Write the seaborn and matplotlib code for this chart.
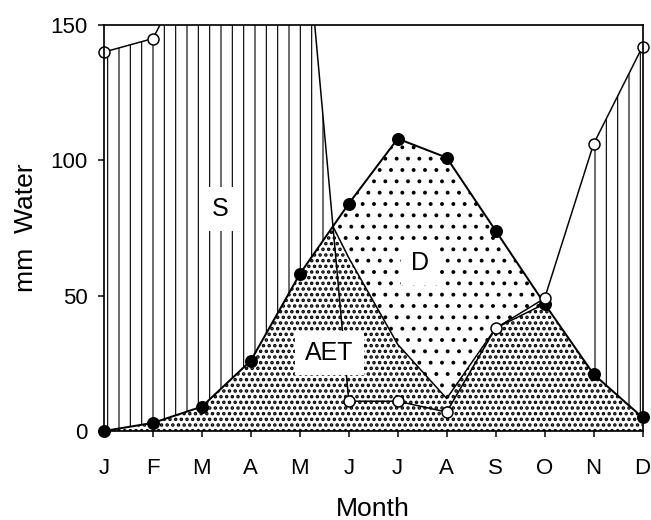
import numpy as np
import matplotlib
matplotlib.use("Agg")
import matplotlib.pyplot as plt
import seaborn as sns

# Monthly water balance (mm)
months = ["J", "F", "M", "A", "M", "J", "J", "A", "S", "O", "N", "D"]
precip = [140, 145, 180, 200, 211, 11, 11, 7, 38, 49, 106, 142]
pet = [0, 3, 9, 26, 58, 84, 108, 101, 74, 47, 21, 5]
aet = [0, 3, 9, 26, 58, 64, 32, 12, 38, 47, 21, 5]
surplus = [True, True, True, True, True, False, False, False, False, False, True, True]
yticks = [0, 50, 100, 150]

DPI = 68
PT = 72 / DPI  # points per pixel


def px(v):
    return v * PT


sns.set_theme(style="ticks")
plt.rcParams["font.family"] = ["Liberation Sans", "DejaVu Sans"]
plt.rcParams["text.color"] = "black"
plt.rcParams["hatch.color"] = "black"

fig = plt.figure(figsize=(651 / DPI, 520 / DPI), dpi=DPI)
ax = fig.add_axes([104 / 651, 89 / 520, 538.5 / 651, 406 / 520])

x = np.arange(len(months), dtype=float)
p = np.array(precip, dtype=float)
e = np.array(pet, dtype=float)
a = np.array(aet, dtype=float)

# where precipitation drops below PET: start of the dry season
d = p - e
i = int(np.where((d[:-1] > 0) & (d[1:] < 0))[0][0])
xc = x[i] + d[i] / (d[i] - d[i + 1])
xs = np.insert(x, i + 1, xc)
ps = np.interp(xs, x, p)
es = np.interp(xs, x, e)
aes = np.insert(a, i + 1, np.interp(xc, x, e))
ss = np.insert(np.array(surplus), i + 1, True)

fill_kw = dict(facecolor="white", edgecolor="black", linewidth=0, zorder=1)
# surplus (S)
with plt.rc_context({"hatch.linewidth": 1.2}):
    ax.fill_between(xs, es, ps, where=ss, hatch="|", **fill_kw)
# actual evapotranspiration (AET)
with plt.rc_context({"hatch.linewidth": 2.5}):
    ax.fill_between(xs, 0, aes, hatch="..", **fill_kw)
# deficit (D)
with plt.rc_context({"hatch.linewidth": 1.7}):
    ax.fill_between(xs, aes, es, hatch=".", **fill_kw)

# AET boundary through the dry season
dry = (xs >= xc) & (xs <= 9)
sns.lineplot(x=xs[dry], y=aes[dry], color="black", linewidth=px(1.5),
             sort=False, legend=False, ax=ax, zorder=3)

# PET
sns.lineplot(x=x, y=e, color="black", linewidth=px(2.0), legend=False,
             ax=ax, zorder=3)
sns.scatterplot(x=x, y=e, color="black", edgecolor="black", linewidth=0,
                s=px(13) ** 2, clip_on=False, legend=False, ax=ax, zorder=4)

# precipitation
sns.lineplot(x=x, y=p, color="black", linewidth=px(1.5), legend=False,
             ax=ax, zorder=3)
vis = p <= 150
sns.scatterplot(x=x[vis], y=p[vis], color="white", edgecolor="black",
                linewidth=px(1.5), s=px(11) ** 2, clip_on=False,
                legend=False, ax=ax, zorder=5)

ax.set_xlim(0, 11)
ax.set_ylim(0, 150)
ax.set_xticks(x, months)
ax.set_yticks(yticks)
ax.tick_params(axis="both", direction="out", length=px(6), width=px(1.5),
               labelsize=px(22.3), colors="black")
ax.tick_params(axis="x", pad=px(21))
ax.tick_params(axis="y", pad=px(10))
for s in ax.spines.values():
    s.set_linewidth(px(1.7))
    s.set_color("black")
    s.set_zorder(6)

box = dict(boxstyle="square,pad=0.4", facecolor="white", edgecolor="none")
for lx, ly, lab in [(2.37, 82, "S"), (6.45, 62, "D"), (4.61, 29, "AET")]:
    ax.text(lx, ly, lab, ha="center", va="center", fontsize=px(25),
            color="black", bbox=box, zorder=7)

ax.set_xlabel("Month", fontsize=px(26.5), color="black")
ax.set_ylabel("mm  Water", fontsize=px(26.5), color="black")
ax.xaxis.set_label_coords(0.5, (431 - 497) / 406)
ax.yaxis.set_label_coords((38 - 104) / 538.5, 0.5)

fig.savefig("out.png", dpi=DPI)
